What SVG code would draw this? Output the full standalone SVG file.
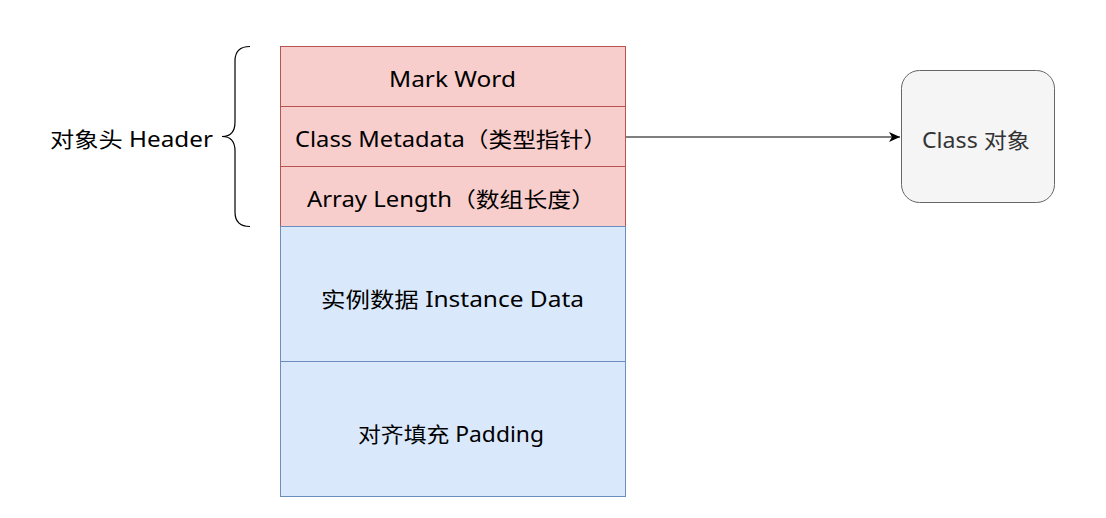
<svg xmlns="http://www.w3.org/2000/svg" width="1106" height="518" viewBox="0 0 1106 518">
<style>
text{font-family:"Noto Sans","Noto Sans CJK SC",sans-serif;font-size:21px;fill:#000}
.red{fill:#f8cecc;stroke:#b85450;stroke-width:1}
.blue{fill:#dae8fc;stroke:#6c8ebf;stroke-width:1}
</style>
<defs>
<marker id="arr" markerWidth="12" markerHeight="10" refX="11" refY="5" orient="auto" markerUnits="userSpaceOnUse">
<path d="M0,0 L11,5 L0,10 L3,5 Z" fill="#000"/>
</marker>
</defs>
<rect width="1106" height="518" fill="#fff"/>
<g id="mark-word"><rect class="red" x="280.5" y="46.5" width="345" height="60"/><text x="389" y="87" textLength="127" lengthAdjust="spacingAndGlyphs">Mark Word</text></g>
<g id="class-metadata"><rect class="red" x="280.5" y="106.5" width="345" height="60"/><text x="295" y="147" textLength="312" lengthAdjust="spacingAndGlyphs">Class Metadata（类型指针）</text></g>
<g id="array-length"><rect class="red" x="280.5" y="166.5" width="345" height="60"/><text x="307" y="207" textLength="288" lengthAdjust="spacingAndGlyphs">Array Length（数组长度）</text></g>
<g id="instance-data"><rect class="blue" x="280.5" y="226.5" width="345" height="135"/><text x="321" y="307" textLength="263" lengthAdjust="spacingAndGlyphs">实例数据 Instance Data</text></g>
<g id="padding"><rect class="blue" x="280.5" y="361.5" width="345" height="135"/><text x="358" y="442" textLength="186" lengthAdjust="spacingAndGlyphs">对齐填充 Padding</text></g>
<g id="class-object"><rect x="901.5" y="70.5" width="153" height="132" rx="18" ry="18" fill="#f5f5f5" stroke="#666"/><text x="922" y="148" textLength="108" lengthAdjust="spacingAndGlyphs" style="fill:#333">Class 对象</text></g>
<g id="header-label"><text x="50" y="147" textLength="163" lengthAdjust="spacingAndGlyphs">对象头 Header</text></g>
<g id="brace"><path d="M250,46.5 Q235,46.5 235,61 L235,122 Q235,136.5 222,136.5 Q235,136.5 235,151 L235,212 Q235,226.5 250,226.5" fill="none" stroke="#000" stroke-width="1.2"/></g>
<g id="connectors"><path d="M626,137 L900,137" stroke="#000" stroke-width="1.2" fill="none" marker-end="url(#arr)"/></g>
</svg>
